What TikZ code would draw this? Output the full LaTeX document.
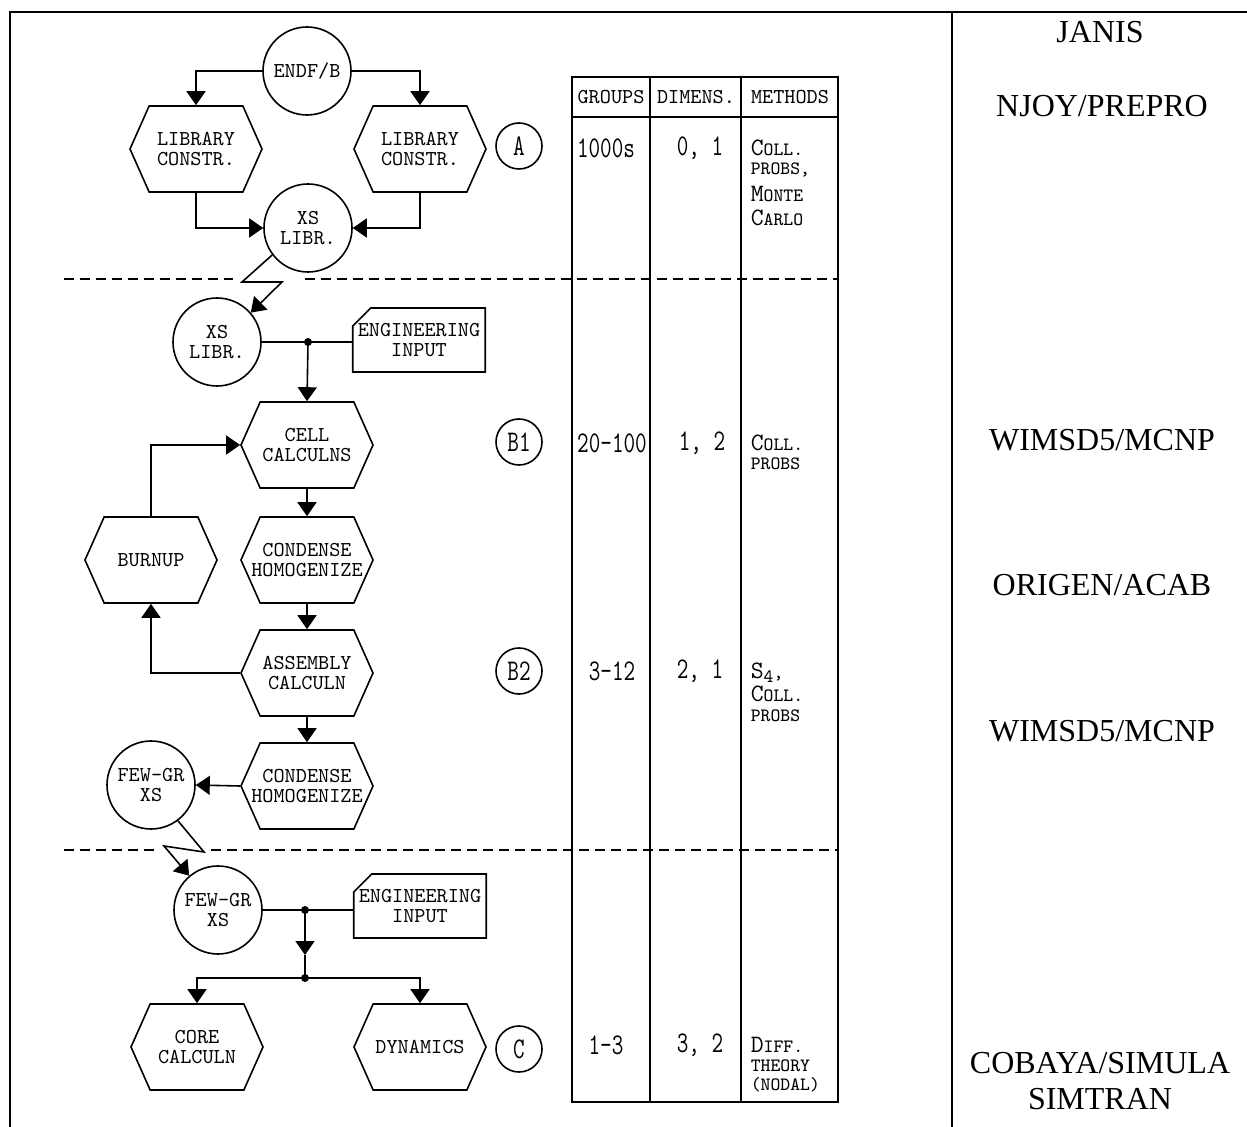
\documentclass[tikz,border=0pt]{standalone}
\usepackage{fontspec}
\setmainfont{Liberation Serif}
\usepackage{graphicx}
\usetikzlibrary{arrows.meta,shapes.symbols,shapes.misc}

\newcommand{\plotfont}{\ttfamily\fontsize{10.6}{10}\selectfont}
\newcommand{\cellfont}{\ttfamily\fontsize{9.4}{9.6}\selectfont}
\newcommand{\initcap}[1]{{\fontsize{12.5}{9.6}\selectfont #1}}
\newcommand{\tallnum}[1]{\scalebox{0.75}[1]{\ttfamily\fontsize{15}{15}\selectfont #1}}

\begin{document}
\begin{tikzpicture}[x=0.5pt, y=-0.5pt, line width=0.8pt,
	every node/.style={font=\plotfont},
	>={Triangle[length=7pt,width=9.5pt]},
	bubble/.style={circle, draw, minimum size=44pt, inner sep=0pt, align=center},
	tag/.style={circle, draw, minimum size=23pt, inner sep=0pt},
	hexbox/.style={signal, signal to=east and west, signal pointer angle=132, draw, minimum width=66pt, minimum height=43pt, inner sep=0pt, align=center},
	card/.style={chamfered rectangle, chamfered rectangle corners=north west, chamfered rectangle xsep=4pt, chamfered rectangle ysep=5pt, draw, minimum width=60pt, minimum height=32pt, inner xsep=-1.5pt, inner ysep=0pt, align=center},
	method/.style={font=\cellfont, align=left, anchor=north west, inner sep=0pt},
	rule/.style={line width=1pt},
	cut/.style={dash pattern=on 5pt off 3pt},
	tool/.style={font=\rmfamily\fontsize{16}{18}\selectfont, align=center}]
	\useasboundingbox (0,0) rectangle (1247,1127);

	% frame and table
	\draw[rule] (1247,12) -- (10,12) -- (10,1127);
	\draw[rule] (952,12) -- (952,1127);
	\draw[rule] (572,77) rectangle (838,1102);
	\draw[rule] (650,77) -- (650,1102) (741,77) -- (741,1102) (572,117) -- (838,117);
	\draw[cut] (64,279) -- (233,279) (305,279) -- (838,279);
	\draw[cut] (64,850) -- (154,850) (211,850) -- (838,850);

	% stage A
	\node[bubble] (endf) at (307,71) {ENDF/B};
	\node[hexbox] (libl) at (196,149) {LIBRARY\\CONSTR.};
	\node[hexbox] (libr) at (420,149) {LIBRARY\\CONSTR.};
	\node[tag] (tagA) at (519,146) {\tallnum{A}};
	\node[bubble] (xslib) at (308,228) {XS\\LIBR.};
	\draw[->] (endf.west) -| (libl.north);
	\draw[->] (endf.east) -| (libr.north);
	\draw[->] (libl.south) |- (xslib.west);
	\draw[->] (libr.south) |- (xslib.east);

	% stage B1, B2
	\node[bubble] (xsin) at (217,342) {XS\\LIBR.};
	\node[card] (eng1) at (419,340) {ENGINEERING\\INPUT};
	\node[hexbox] (cell) at (307,445) {CELL\\CALCULNS};
	\node[tag] (tagB1) at (519,442) {\tallnum{B1}};
	\node[hexbox] (burn) at (151,560) {BURNUP};
	\node[hexbox, inner xsep=-5pt] (cond1) at (307,560) {CONDENSE\\HOMOGENIZE};
	\node[hexbox] (asm) at (307,673) {ASSEMBLY\\CALCULN};
	\node[tag] (tagB2) at (519,671) {\tallnum{B2}};
	\node[hexbox, inner xsep=-5pt] (cond2) at (307,786) {CONDENSE\\HOMOGENIZE};
	\node[bubble] (few1) at (151,785) {FEW-GR\\XS};
	\coordinate (zig1a) at (242,282);
	\coordinate (zig1b) at (282,282);
	\coordinate (dot1) at (308,342);
	\coordinate (eng1in) at (eng1.west |- dot1);
	\draw[->] (xslib.217) -- (zig1a) -- (zig1b) -- (xsin.41);
	\draw (xsin.east) -- (eng1in);
	\fill (dot1) circle (2pt);
	\draw[->] (dot1) -- (cell.north);
	\draw[->] (cell.south) -- (cond1.north);
	\draw[->] (burn.north) |- (cell.west);
	\draw[->] (cond1.south) -- (asm.north);
	\draw[->] (asm.west) -| (burn.south);
	\draw[->] (asm.south) -- (cond2.north);
	\draw[->] (cond2.west) -- (few1.east);

	% stage C
	\node[bubble] (few2) at (218,910) {FEW-GR\\XS};
	\node[card] (eng2) at (420,906) {ENGINEERING\\INPUT};
	\node[hexbox] (core) at (197,1047) {CORE\\CALCULN};
	\node[hexbox] (dyn) at (420,1047) {DYNAMICS};
	\node[tag] (tagC) at (519,1049) {\tallnum{C}};
	\coordinate (zig2a) at (204,852);
	\coordinate (zig2b) at (164,846);
	\coordinate (dot2) at (305,910);
	\coordinate (mid2) at (305,955);
	\coordinate (dot3) at (305,978);
	\coordinate (eng2in) at (eng2.west |- dot2);
	\draw[->] (few1.-53) -- (zig2a) -- (zig2b) -- (few2.130);
	\draw (few2.east) -- (eng2in);
	\fill (dot2) circle (2pt) (dot3) circle (2pt);
	\draw[->] (dot2) -- (mid2);
	\draw (mid2) -- (dot3);
	\draw[->] (dot3) -| (core.north);
	\draw[->] (dot3) -| (dyn.north);

	% table entries
	\node (hgr) at (611,97) {GROUPS};
	\node (hdim) at (696,97) {DIMENS.};
	\node (hmet) at (790,97) {METHODS};
	\node (grA) at (606,148) {\tallnum{1000s}};
	\node (dimA) at (700,148) {\tallnum{0, 1}};
	\node[method] (metA) at (750,139) {\initcap{C}OLL.\\PROBS,\\[4pt]\initcap{M}ONTE\\[2.5pt]\initcap{C}ARLO};
	\node (grB1) at (612,443) {\tallnum{20-100}};
	\node (dimB1) at (702,443) {\tallnum{1, 2}};
	\node[method] (metB1) at (750,434) {\initcap{C}OLL.\\PROBS};
	\node (grB2) at (612,671) {\tallnum{3-12}};
	\node (dimB2) at (700,671) {\tallnum{2, 1}};
	\node[method] (metB2) at (750,662) {\initcap{S}\raisebox{-2pt}{4},\\[1pt]\initcap{C}OLL.\\PROBS};
	\node (grC) at (606,1045) {\tallnum{1-3}};
	\node (dimC) at (700,1045) {\tallnum{3, 2}};
	\node[method] (metC) at (750,1036) {\initcap{D}IFF.\\THEORY\\(NODAL)};

	% codes
	\node[tool] (janis) at (1100,32) {JANIS};
	\node[tool] (njoy) at (1102,106) {NJOY/PREPRO};
	\node[tool] (wims1) at (1102,440) {WIMSD5/MCNP};
	\node[tool] (origen) at (1102,585) {ORIGEN/ACAB};
	\node[tool] (wims2) at (1102,731) {WIMSD5/MCNP};
	\node[tool] (cobaya) at (1100,1081) {COBAYA/SIMULA\\SIMTRAN};
\end{tikzpicture}
\end{document}
